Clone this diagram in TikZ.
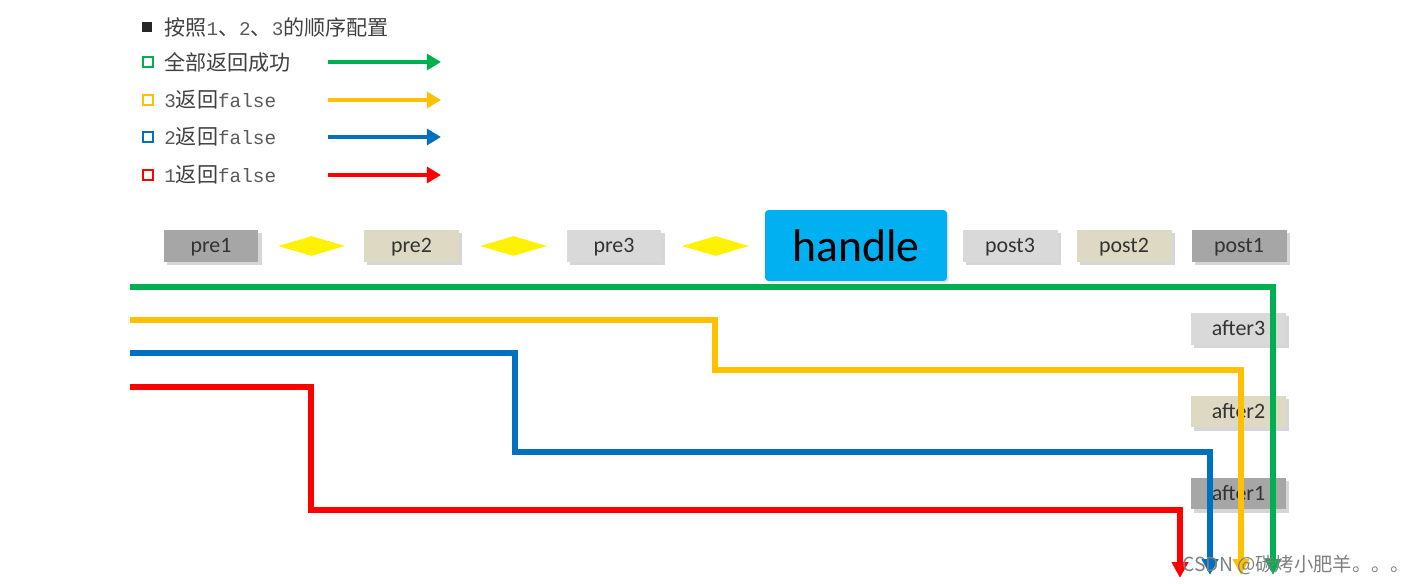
\documentclass[tikz,border=0pt]{standalone}
\usepackage{fontspec}
\setmainfont{Carlito}
\newfontfamily\cjkfont{Noto Sans CJK SC}
\newfontfamily\codefont{Liberation Mono}
\usetikzlibrary{arrows.meta,shadows,shapes.geometric}
\definecolor{okgreen}{HTML}{00B050}
\definecolor{falseyellow}{HTML}{FFC000}
\definecolor{falseblue}{HTML}{0070C0}
\definecolor{falsered}{HTML}{FF0000}
\definecolor{handleblue}{HTML}{00B0F0}
\definecolor{darkstage}{HTML}{A6A6A6}
\definecolor{tanstage}{HTML}{DDD9C3}
\definecolor{lightstage}{HTML}{D9D9D9}
\definecolor{legendtext}{HTML}{404040}
\tikzset{>=Triangle}
\tikzset{
  stage/.style={minimum width=1.9cm, minimum height=0.64cm, inner sep=0pt,
    font=\fontsize{12.5}{14}\selectfont, text=black!80, text height=1.85ex, text depth=.25ex,
    drop shadow={shadow xshift=1.8pt, shadow yshift=-1.8pt, fill=black!40, opacity=.4}},
  gate/.style={diamond, fill=yellow, minimum width=1.34cm, minimum height=0.4cm,
    aspect=3.3, inner sep=0pt},
  keybox/.style={minimum size=0.2cm, inner sep=0pt, line width=1.3pt},
  keytext/.style={anchor=west, inner sep=0pt, text=legendtext, font=\fontsize{12}{14}\selectfont},
  flow/.style={line width=3pt, line cap=butt, line join=miter},
  keyarrow/.style={line width=2.3pt, -{Triangle[length=8pt, width=9pt]}},
}
\newcommand{\mono}[1]{{\codefont\fontsize{11}{13}\selectfont\color{black!65}#1}}

\begin{document}
\begin{tikzpicture}[x=0.02cm, y=-0.02cm]
    \useasboundingbox (0,0) rectangle (1417,584);
    % legend
    \node [keybox, fill=black!85] (k0) at (147,27) {};
    \node [keytext] (t0) at (164,27) {{\cjkfont 按照}\mono{1}{\cjkfont 、}\mono{2}{\cjkfont 、}\mono{3}{\cjkfont 的顺序配置}};
    \node [keybox, draw=okgreen] (k1) at (148,62) {};
    \node [keytext] (t1) at (164,62) {\cjkfont 全部返回成功};
    \node [keybox, draw=falseyellow] (k2) at (148,100) {};
    \node [keytext] (t2) at (164,100) {\mono{3}{\cjkfont 返回}\mono{false}};
    \node [keybox, draw=falseblue] (k3) at (148,137) {};
    \node [keytext] (t3) at (164,137) {\mono{2}{\cjkfont 返回}\mono{false}};
    \node [keybox, draw=falsered] (k4) at (148,175) {};
    \node [keytext] (t4) at (164,175) {\mono{1}{\cjkfont 返回}\mono{false}};
    \coordinate (a1) at (328,62);   \coordinate (b1) at (441,62);
    \coordinate (a2) at (328,100);  \coordinate (b2) at (441,100);
    \coordinate (a3) at (328,137);  \coordinate (b3) at (441,137);
    \coordinate (a4) at (328,175);  \coordinate (b4) at (441,175);
    \draw [keyarrow, color=okgreen] (a1) -- (b1);
    \draw [keyarrow, color=falseyellow] (a2) -- (b2);
    \draw [keyarrow, color=falseblue] (a3) -- (b3);
    \draw [keyarrow, color=falsered] (a4) -- (b4);

    % chain
    \node [stage, fill=darkstage] (pre1) at (211,246) {pre1};
    \node [gate] (g1) at (311.5,246) {};
    \node [stage, fill=tanstage] (pre2) at (411.5,246) {pre2};
    \node [gate] (g2) at (513.5,246) {};
    \node [stage, fill=lightstage] (pre3) at (614,246) {pre3};
    \node [gate] (g3) at (715.5,246) {};
    \node [fill=handleblue, rounded corners=2pt, minimum width=3.64cm, minimum height=1.42cm,
        font=\fontsize{26}{30}\selectfont, drop shadow={shadow xshift=1pt, shadow yshift=-1pt, fill=black!30, opacity=.4}] (handle) at (856,245.5) {handle};
    \node [stage, fill=lightstage] (post3) at (1010,246) {post3};
    \node [stage, fill=tanstage] (post2) at (1124,246) {post2};
    \node [stage, fill=darkstage] (post1) at (1239,246) {post1};
    \node [stage, fill=lightstage] (after3) at (1238.5,329) {after3};
    \node [stage, fill=tanstage] (after2) at (1238.5,411.5) {after2};
    \node [stage, fill=darkstage] (after1) at (1238.5,493.5) {after1};

    % return paths
    \coordinate (s0) at (130,287);
    \coordinate (s3) at (130,320);
    \coordinate (s2) at (130,353);
    \coordinate (s1) at (130,387);
    \coordinate (e0) at (1273,575);
    \coordinate (e3) at (1241,575);
    \coordinate (e2) at (1210,575);
    \coordinate (e1) at (1180,578);
    \draw [flow, color=okgreen, -{Triangle[length=9pt, width=9pt]}] (s0) -| (e0);
    \draw [flow, color=falseyellow, -{Triangle[length=9pt, width=9pt]}] (s3) -- (715,320) -- (715,370) -| (e3);
    \draw [flow, color=falseblue, -{Triangle[length=9pt, width=9pt]}] (s2) -- (515,353) -- (515,452) -| (e2);
    \draw [flow, color=falsered, -{Triangle[length=9pt, width=9pt]}] (s1) -- (311,387) -- (311,510) -| (e1);

    \node [anchor=west, inner sep=0pt, text=black!50, font=\cjkfont\fontsize{11}{13}\selectfont] (mark) at (1182,565) {CSDN @碳烤小肥羊。。。};
\end{tikzpicture}
\end{document}
